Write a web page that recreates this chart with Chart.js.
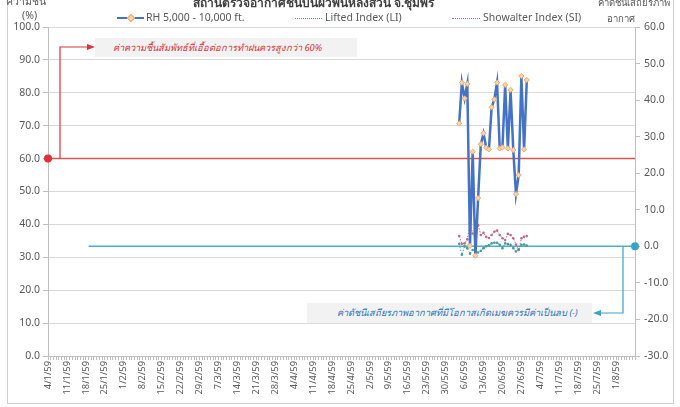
<!DOCTYPE html>
<html>
<head>
<meta charset="utf-8">
<script src="https://cdn.jsdelivr.net/npm/chart.js@4"></script>
<style>
  body { margin: 0; background: #fff; }
  #wrap { position: relative; width: 680px; height: 407px; overflow: hidden; font-family: "Noto Sans", sans-serif; color: #595959; }
  #frame { position: absolute; left: 7px; top: -10px; width: 665px; height: 412px; border: 1px solid #d0d0d0; }
  canvas { position: absolute; left: 0; top: 0; }
  .txt { position: absolute; white-space: nowrap; font-size: 10.5px; }
  .box { position: absolute; background: #f2f2f2; font-style: italic; font-size: 9.3px; white-space: nowrap; line-height: 19px; box-sizing: border-box; }
  .sample { position: absolute; height: 0; }
</style>
</head>
<body>
<div id="wrap">
  <div id="frame"></div>
  <canvas id="chart" width="680" height="407"></canvas>
  <div class="txt" style="left:193px;top:-7px;font-weight:bold;font-size:12px;color:#404040;">สถานีตรวจอากาศชั้นบนผิวพื้นหลังสวน จ.ชุมพร</div>
  <div class="txt" style="left:6px;top:-7px;">ความชื้น</div>
  <div class="txt" style="left:22px;top:8px;">(%)</div>
  <div class="txt" style="left:598px;top:-5px;font-size:9.5px;">ค่าดัชนีเสถียรภาพ</div>
  <div class="txt" style="left:607px;top:11px;font-size:9.5px;">อากาศ</div>

  <div class="sample" style="left:117px;top:17px;width:27px;border-top:2.5px solid #4472c4;"></div>
  <div class="sample" style="left:128px;top:15px;width:4px;height:4px;background:#fbd3ad;border:1px solid #f0a868;transform:rotate(45deg);"></div>
  <div class="txt" style="left:146px;top:10px;">RH 5,000 - 10,000 ft.</div>
  <div class="sample" style="left:295px;top:18px;width:27px;border-top:1px dotted #4a9c9c;"></div>
  <div class="txt" style="left:325px;top:10px;">Lifted Index (LI)</div>
  <div class="sample" style="left:452px;top:18px;width:28px;border-top:1px dotted #c06a8e;"></div>
  <div class="txt" style="left:483px;top:10px;">Showalter Index (SI)</div>

  <div class="box" style="left:95px;top:38px;width:262px;height:19px;color:#d9343a;padding-left:18px;">ค่าความชื้นสัมพัทธ์ที่เอื้อต่อการทำฝนควรสูงกว่า 60%</div>
  <div class="box" style="left:307px;top:303px;width:285px;height:20px;color:#2e75b6;padding-left:30px;">ค่าดัชนีเสถียรภาพอากาศที่มีโอกาสเกิดเมฆควรมีค่าเป็นลบ (-)</div>
</div>
<script>
// daily categories, 4 Jan - 8 Aug 2559 (2016)
const categories = [];
for (let d = new Date(2016, 0, 4); d <= new Date(2016, 7, 8); d.setDate(d.getDate() + 1)) {
    categories.push(d.getDate() + "/" + (d.getMonth() + 1) + "/59");
}

const weekLabels = ["4/1/59", "11/1/59", "18/1/59", "25/1/59", "1/2/59", "8/2/59", "15/2/59", "22/2/59",
    "29/2/59", "7/3/59", "14/3/59", "21/3/59", "28/3/59", "4/4/59", "11/4/59", "18/4/59", "25/4/59",
    "2/5/59", "9/5/59", "16/5/59", "23/5/59", "30/5/59", "6/6/59", "13/6/59", "20/6/59", "27/6/59",
    "4/7/59", "11/7/59", "18/7/59", "25/7/59", "1/8/59"];

const leftTicks = [0, 10, 20, 30, 40, 50, 60, 70, 80, 90, 100];
const rightTicks = [-30, -20, -10, 0, 10, 20, 30, 40, 50, 60];

// observations, 4/6/59 - 29/6/59
const obsStart = "4/6/59";
const rhValues = [70.7, 83.1, 78.3, 82.7, 33.5, 62.1, 30.5, 48.0, 64.4, 67.7, 63.3, 62.8, 75.6,
    78.0, 83.1, 63.1, 63.4, 82.4, 63.1, 80.9, 62.6, 49.2, 55.0, 85.1, 62.8, 83.9];
const liValues = [0.7, -2.3, 0.0, -0.5, -2.0, -1.0, -1.4, -1.7, -1.2, -0.5, 0.0, 0.3, 0.8,
    1.0, 1.0, 0.4, -0.5, 0.8, 0.6, 0.4, -0.5, -1.4, -0.8, 0.4, 0.5, 0.2];
const siValues = [2.8, 0.7, 0.8, 1.9, 6.3, 3.5, 2.0, 5.8, 3.1, 3.7, 2.6, 2.3, 3.1,
    4.0, 4.3, 3.1, 2.2, 1.7, 3.4, 3.1, 2.2, 0.5, -1.0, 2.2, 2.6, 2.8];

const rhThreshold = 60;
const indexThreshold = 0;
const indexLineStart = "19/1/59";

function spread(values) {
    const start = categories.indexOf(obsStart);
    return categories.map((c, i) => {
        const k = i - start;
        return k >= 0 && k < values.length ? values[k] : null;
    });
}

const lastCat = categories[categories.length - 1];

const connectors = {
    id: "connectors",
    afterDraw(chart) {
        const ctx = chart.ctx;
        const a = chart.chartArea;
        const y60 = chart.scales.y.getPixelForValue(rhThreshold);
        const y0 = chart.scales.y2.getPixelForValue(indexThreshold);
        ctx.save();
        ctx.lineWidth = 1.2;
        // red: from threshold up to the note
        ctx.strokeStyle = ctx.fillStyle = "#d9343a";
        ctx.beginPath();
        ctx.moveTo(a.left + 12, y60);
        ctx.lineTo(a.left + 12, 47);
        ctx.lineTo(88, 47);
        ctx.stroke();
        ctx.beginPath();
        ctx.moveTo(95, 47); ctx.lineTo(87, 44); ctx.lineTo(87, 50); ctx.closePath(); ctx.fill();
        // teal: from zero line down to the note
        ctx.strokeStyle = ctx.fillStyle = "#3aa4c4";
        ctx.beginPath();
        ctx.moveTo(a.right - 12, y0);
        ctx.lineTo(a.right - 12, 313);
        ctx.lineTo(600, 313);
        ctx.stroke();
        ctx.beginPath();
        ctx.moveTo(593, 313); ctx.lineTo(601, 310); ctx.lineTo(601, 316); ctx.closePath(); ctx.fill();
        ctx.restore();
    }
};

const tickFont = { family: "Noto Sans", size: 10.5 };

new Chart(document.getElementById("chart"), {
    type: "line",
    data: {
        labels: categories,
        datasets: [
            {
                label: "RH 5,000 - 10,000 ft.",
                data: spread(rhValues),
                yAxisID: "y",
                borderColor: "#4472c4",
                borderWidth: 2.5,
                pointStyle: "rectRot",
                pointRadius: 2.6,
                pointBackgroundColor: "#fbd3ad",
                pointBorderColor: "#f0a868",
                pointBorderWidth: 1,
                order: 1
            },
            {
                label: "Lifted Index (LI)",
                data: spread(liValues),
                yAxisID: "y2",
                borderColor: "#4a9c9c",
                borderWidth: 1,
                borderDash: [1.5, 1.5],
                pointRadius: 1.3,
                pointBackgroundColor: "#4a9c9c",
                pointBorderWidth: 0,
                order: 2
            },
            {
                label: "Showalter Index (SI)",
                data: spread(siValues),
                yAxisID: "y2",
                borderColor: "#c06a8e",
                borderWidth: 1,
                borderDash: [1.5, 1.5],
                pointRadius: 1.3,
                pointBackgroundColor: "#c06a8e",
                pointBorderWidth: 0,
                order: 3
            },
            {
                label: "RH threshold",
                data: [{ x: categories[0], y: rhThreshold }, { x: lastCat, y: rhThreshold }],
                yAxisID: "y",
                borderColor: "#d9534f",
                borderWidth: 1.5,
                pointRadius: [4, 0],
                pointBackgroundColor: "#e0303a",
                pointBorderWidth: 0,
                order: 4
            },
            {
                label: "Index threshold",
                data: [{ x: indexLineStart, y: indexThreshold }, { x: lastCat, y: indexThreshold }],
                yAxisID: "y2",
                borderColor: "#4bb0cc",
                borderWidth: 1.5,
                pointRadius: [0, 4],
                pointBackgroundColor: "#3aa4c4",
                pointBorderWidth: 0,
                order: 5
            }
        ]
    },
    options: {
        responsive: false,
        animation: false,
        layout: { padding: { top: 27, left: 0, right: 0, bottom: 0 } },
        plugins: { legend: { display: false }, title: { display: false }, tooltip: { enabled: false } },
        elements: { line: { tension: 0 } },
        scales: {
            x: {
                type: "category",
                offset: false,
                afterFit: (s) => { s.height = 51; },
                border: { color: "#bfbfbf" },
                grid: {
                    drawOnChartArea: false,
                    tickLength: 4,
                    tickColor: "#bfbfbf"
                },
                ticks: {
                    autoSkip: false,
                    maxRotation: 90,
                    minRotation: 90,
                    padding: 1,
                    color: "#595959",
                    font: { family: "Noto Sans", size: 9.3 },
                    callback: function (v) {
                        const lab = this.getLabelForValue(v);
                        return weekLabels.includes(lab) ? lab : "";
                    }
                }
            },
            y: {
                position: "left",
                min: 0,
                max: 100,
                afterFit: (s) => { s.width = 48; },
                afterBuildTicks: (s) => { s.ticks = leftTicks.map((v) => ({ value: v })); },
                border: { color: "#bfbfbf" },
                grid: { color: "#d9d9d9", tickLength: 5, tickColor: "#bfbfbf" },
                ticks: { color: "#595959", font: tickFont, padding: 3, callback: (v) => v.toFixed(1) }
            },
            y2: {
                position: "right",
                min: -30,
                max: 60,
                afterFit: (s) => { s.width = 45; },
                afterBuildTicks: (s) => { s.ticks = rightTicks.map((v) => ({ value: v })); },
                border: { color: "#bfbfbf" },
                grid: { drawOnChartArea: false, tickLength: 5, tickColor: "#bfbfbf" },
                ticks: { color: "#595959", font: tickFont, padding: 4, callback: (v) => v.toFixed(1) }
            }
        }
    },
    plugins: [connectors]
});
</script>
</body>
</html>
